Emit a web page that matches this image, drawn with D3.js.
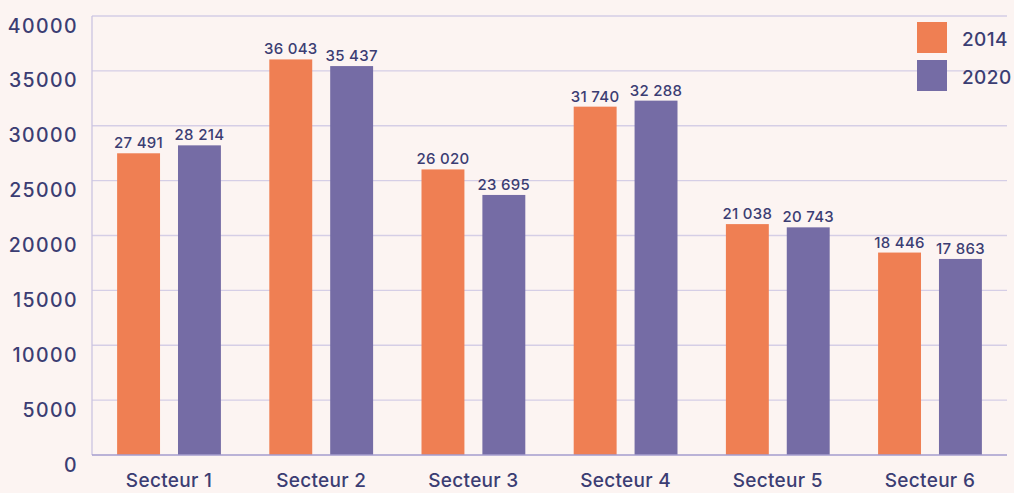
<!DOCTYPE html>
<html>
<head>
<meta charset="utf-8">
<script src="https://cdn.jsdelivr.net/npm/d3@7"></script>
<style>
  html, body { margin: 0; padding: 0; background: #fcf4f2; }
  svg { display: block; font-family: "Inter", sans-serif; }
</style>
</head>
<body>
<svg id="chart" width="1014" height="493"></svg>
<script>
const sectors = ["Secteur 1", "Secteur 2", "Secteur 3", "Secteur 4", "Secteur 5", "Secteur 6"]
const years = ["2014", "2020"]
const values2014 = [27491, 36043, 26020, 31740, 21038, 18446]
const values2020 = [28214, 35437, 23695, 32288, 20743, 17863]
const yTicks = [0, 5000, 10000, 15000, 20000, 25000, 30000, 35000, 40000]
const colors = ["#ef7f53", "#756ca5"]

const textColor = "#3b3d73"
const margin = {top: 16, right: 7, bottom: 38, left: 92}
const width = 1014 - margin.left - margin.right
const height = 493 - margin.top - margin.bottom

const rows = sectors.map((s, i) => ({sector: s, vals: [values2014[i], values2020[i]]}))

const svg = d3.select("#chart")
const g = svg.append("g").attr("transform", "translate(" + margin.left + "," + margin.top + ")")

const x0 = d3.scaleBand().domain(sectors).range([0, width]).paddingInner(0.318).paddingOuter(0.165)
const x1 = d3.scaleBand().domain(years).range([0, x0.bandwidth()]).paddingInner(0.295)
const y = d3.scaleLinear().domain([0, 40000]).range([height, 0])

const fmt = v => d3.format(",")(v).replace(",", " ")

// gridlines
g.selectAll(".grid").data(yTicks.filter(t => t > 0)).enter().append("line")
  .attr("x1", 0).attr("x2", width)
  .attr("y1", d => y(d)).attr("y2", d => y(d))
  .attr("stroke", "#d5cee6").attr("stroke-width", 1.3)

// y labels
g.selectAll(".ylab").data(yTicks).enter().append("text")
  .attr("x", -14).attr("y", d => y(d) + 16.5)
  .attr("text-anchor", "end")
  .attr("fill", textColor).attr("font-size", 19.5).attr("font-weight", 500)
  .attr("letter-spacing", 1.4)
  .text(d => d)

// bars
const groups = g.selectAll(".grp").data(rows).enter().append("g")
  .attr("transform", d => "translate(" + x0(d.sector) + ",0)")

groups.selectAll("rect").data(d => d.vals.map((v, i) => ({year: years[i], v, i}))).enter().append("rect")
  .attr("x", d => x1(d.year)).attr("width", x1.bandwidth())
  .attr("y", d => y(d.v)).attr("height", d => height - y(d.v))
  .attr("fill", d => colors[d.i])

groups.selectAll("text").data(d => d.vals.map((v, i) => ({year: years[i], v, i}))).enter().append("text")
  .attr("x", d => x1(d.year) + x1.bandwidth() / 2).attr("y", d => y(d.v) - 5)
  .attr("text-anchor", "middle")
  .attr("fill", textColor).attr("font-size", 15).attr("font-weight", 500)
  .attr("letter-spacing", 0.3)
  .text(d => fmt(d.v))

// axes lines
g.append("line").attr("x1", 0).attr("x2", 0).attr("y1", 0).attr("y2", height)
  .attr("stroke", "#cbc4e1").attr("stroke-width", 1.3)
g.append("line").attr("x1", 0).attr("x2", width).attr("y1", height).attr("y2", height)
  .attr("stroke", "#a49cce").attr("stroke-width", 1.3)

// x labels (kept just inside the frame)
g.selectAll(".xlab").data(sectors).enter().append("text")
  .attr("x", d => x0(d) + x0.bandwidth() / 2).attr("y", height + 32)
  .attr("text-anchor", "middle")
  .attr("fill", textColor).attr("font-size", 19).attr("font-weight", 500)
  .attr("letter-spacing", 0.3)
  .text(d => d)

// legend
const legend = svg.append("g").attr("transform", "translate(917,22)")
years.forEach((yr, i) => {
  legend.append("rect").attr("x", 0).attr("y", i * 38).attr("width", 30).attr("height", 31).attr("fill", colors[i])
  legend.append("text").attr("x", 45).attr("y", i * 38 + 24)
    .attr("fill", textColor).attr("font-size", 19).attr("font-weight", 500)
    .attr("letter-spacing", 0.4)
    .text(yr)
})
</script>
</body>
</html>
